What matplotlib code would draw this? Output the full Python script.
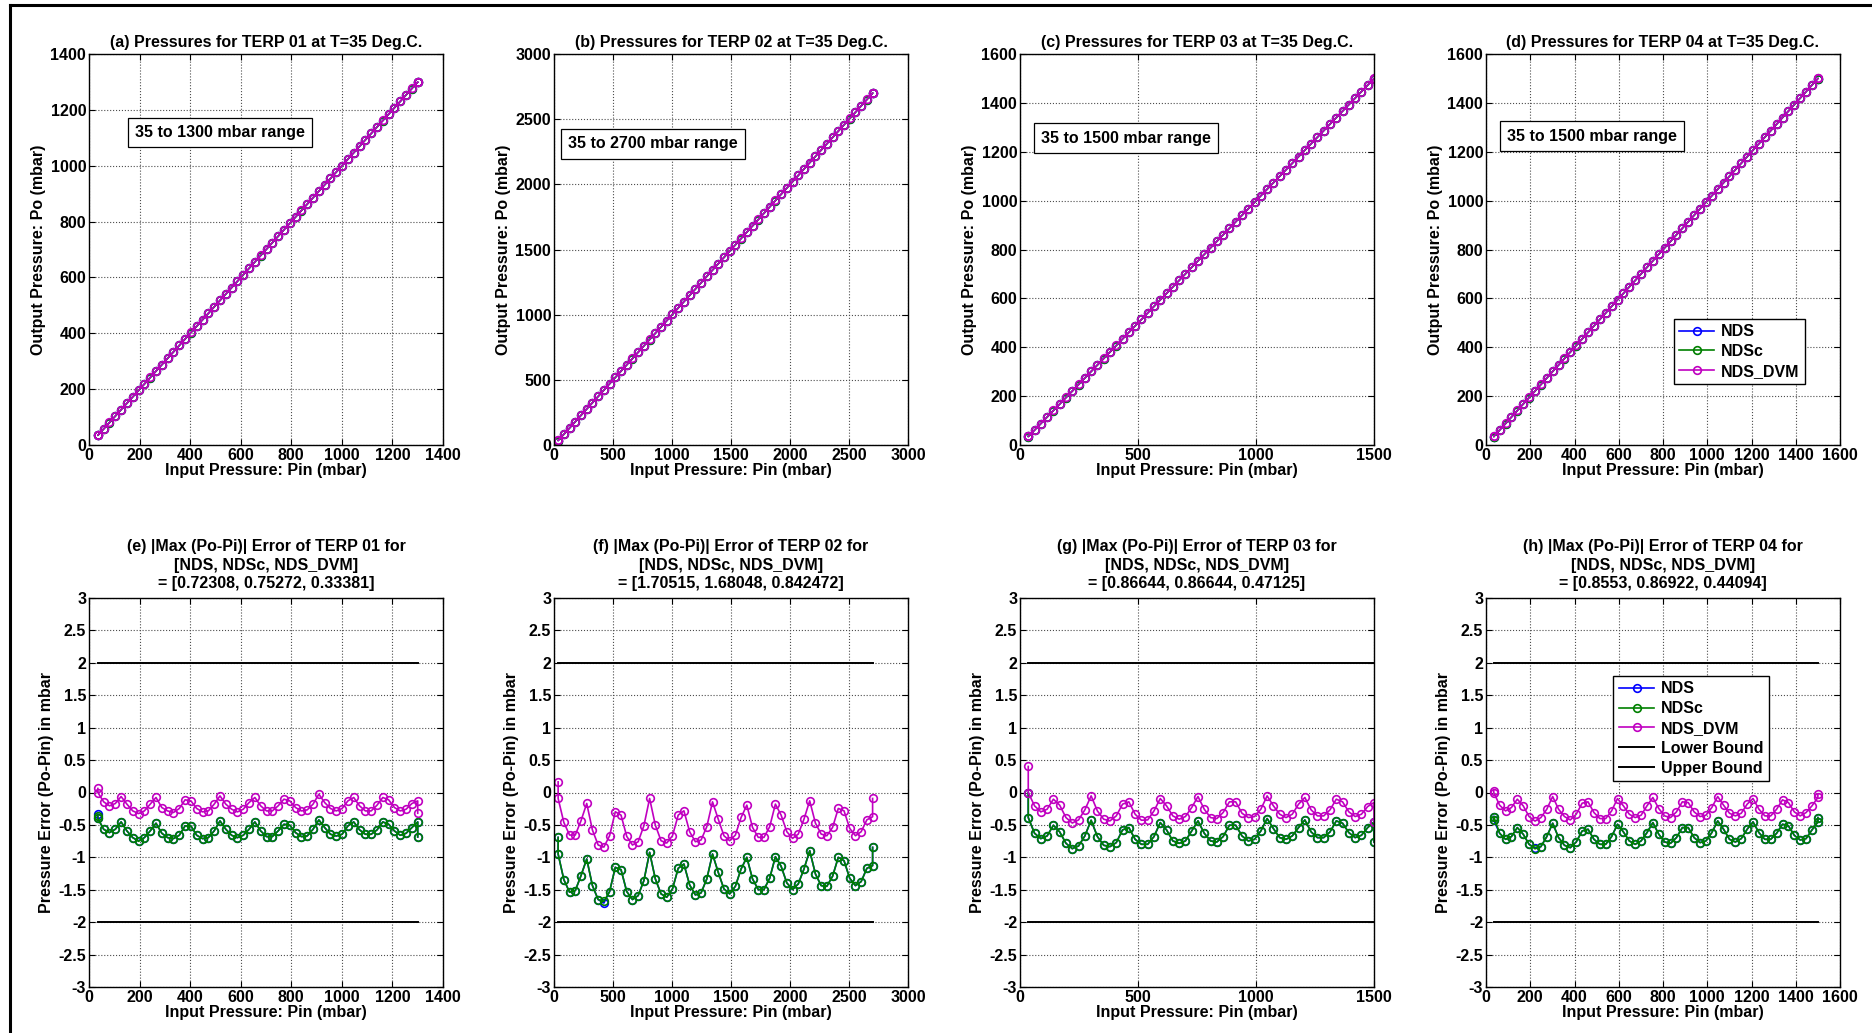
import numpy as np
import matplotlib
matplotlib.use("Agg")
import matplotlib.pyplot as plt
from matplotlib.lines import Line2D

plt.rcParams["font.family"] = ["Liberation Sans", "DejaVu Sans"]
plt.rcParams["font.weight"] = "bold"
FS = 11.5
plt.rcParams["font.size"] = FS


# input pressure ranges of the four TERPs (56 set-points, first and last repeated)
ranges = [(35, 1300), (35, 2700), (35, 1500), (35, 1500)]
n_steps = 56

# errors Po - Pin (mbar)
nds_e = [-0.335, -0.40,
         -0.567, -0.619, -0.567, -0.454, -0.593, -0.696, -0.745, -0.696, -0.593, -0.474,
         -0.629, -0.696, -0.711, -0.660, -0.515, -0.515, -0.660, -0.711, -0.696, -0.593,
         -0.438, -0.567, -0.660, -0.696, -0.660, -0.567, -0.454, -0.593, -0.680, -0.680,
         -0.593, -0.490, -0.505, -0.619, -0.680, -0.670, -0.567, -0.423, -0.541, -0.644,
         -0.670, -0.644, -0.515, -0.454, -0.577, -0.644, -0.644, -0.577, -0.454, -0.490,
         -0.593, -0.660, -0.629, -0.541,
         -0.454, -0.686]
ndsc_e = [-0.37, -0.40,
          -0.567, -0.619, -0.567, -0.454, -0.593, -0.696, -0.753, -0.696, -0.593, -0.474,
          -0.629, -0.696, -0.711, -0.660, -0.515, -0.515, -0.660, -0.711, -0.696, -0.593,
          -0.438, -0.567, -0.660, -0.696, -0.660, -0.567, -0.454, -0.593, -0.680, -0.680,
          -0.593, -0.490, -0.505, -0.619, -0.680, -0.670, -0.567, -0.423, -0.541, -0.644,
          -0.670, -0.644, -0.515, -0.454, -0.577, -0.644, -0.644, -0.577, -0.454, -0.490,
          -0.593, -0.660, -0.629, -0.541,
          -0.454, -0.686]
dvm_e = [0.062, 0.0,
         -0.144, -0.206, -0.170, -0.062, -0.180, -0.284, -0.325, -0.284, -0.180, -0.077,
         -0.232, -0.284, -0.309, -0.247, -0.113, -0.129, -0.247, -0.299, -0.284, -0.180,
         -0.052, -0.180, -0.258, -0.299, -0.258, -0.155, -0.077, -0.206, -0.284, -0.284,
         -0.206, -0.103, -0.129, -0.232, -0.284, -0.268, -0.180, -0.026, -0.155, -0.247,
         -0.284, -0.247, -0.129, -0.077, -0.206, -0.284, -0.284, -0.196, -0.077, -0.113,
         -0.232, -0.284, -0.258, -0.170,
         -0.129, -0.320]

nds_f = [-0.692, -0.949,
         -1.344, -1.538, -1.513, -1.282, -1.026, -1.436, -1.651, -1.705, -1.528, -1.154,
         -1.190, -1.528, -1.651, -1.590, -1.359, -0.923, -1.333, -1.564, -1.615, -1.487,
         -1.169, -1.103, -1.426, -1.579, -1.549, -1.333, -0.949, -1.231, -1.487, -1.564,
         -1.446, -1.179, -1.000, -1.333, -1.497, -1.497, -1.323, -0.990, -1.138, -1.395,
         -1.497, -1.410, -1.179, -0.897, -1.256, -1.436, -1.446, -1.292, -1.000, -1.051,
         -1.323, -1.436, -1.374, -1.169,
         -1.128, -0.846]
ndsc_f = [-0.692, -0.949,
          -1.344, -1.538, -1.513, -1.282, -1.026, -1.436, -1.651, -1.680, -1.528, -1.154,
          -1.190, -1.528, -1.651, -1.590, -1.359, -0.923, -1.333, -1.564, -1.615, -1.487,
          -1.169, -1.103, -1.426, -1.579, -1.549, -1.333, -0.949, -1.231, -1.487, -1.564,
          -1.446, -1.179, -1.000, -1.333, -1.497, -1.497, -1.323, -0.990, -1.138, -1.395,
          -1.497, -1.410, -1.179, -0.897, -1.256, -1.436, -1.446, -1.292, -1.000, -1.051,
          -1.323, -1.436, -1.374, -1.169,
          -1.128, -0.846]
dvm_f = [0.164, -0.092,
         -0.462, -0.656, -0.656, -0.436, -0.169, -0.579, -0.810, -0.842, -0.667, -0.297,
         -0.349, -0.677, -0.810, -0.759, -0.513, -0.092, -0.503, -0.744, -0.779, -0.667,
         -0.349, -0.282, -0.605, -0.759, -0.733, -0.528, -0.144, -0.410, -0.667, -0.744,
         -0.656, -0.385, -0.195, -0.538, -0.692, -0.692, -0.528, -0.179, -0.349, -0.605,
         -0.708, -0.641, -0.410, -0.128, -0.472, -0.641, -0.667, -0.538, -0.246, -0.282,
         -0.554, -0.667, -0.605, -0.421,
         -0.374, -0.092]

nds_g = [0.0, -0.387,
         -0.629, -0.711, -0.670, -0.505, -0.608, -0.784, -0.866, -0.825, -0.670, -0.428,
         -0.680, -0.814, -0.835, -0.773, -0.577, -0.541, -0.722, -0.799, -0.799, -0.680,
         -0.464, -0.577, -0.747, -0.784, -0.747, -0.593, -0.438, -0.629, -0.747, -0.763,
         -0.680, -0.505, -0.505, -0.670, -0.747, -0.722, -0.593, -0.402, -0.557, -0.696,
         -0.722, -0.670, -0.541, -0.423, -0.608, -0.696, -0.696, -0.608, -0.438, -0.474,
         -0.619, -0.696, -0.660, -0.541,
         -0.454, -0.763]
ndsc_g = [0.0, -0.387,
          -0.629, -0.711, -0.670, -0.505, -0.608, -0.784, -0.866, -0.825, -0.670, -0.428,
          -0.680, -0.814, -0.835, -0.773, -0.577, -0.541, -0.722, -0.799, -0.799, -0.680,
          -0.464, -0.577, -0.747, -0.784, -0.747, -0.593, -0.438, -0.629, -0.747, -0.763,
          -0.680, -0.505, -0.505, -0.670, -0.747, -0.722, -0.593, -0.402, -0.557, -0.696,
          -0.722, -0.670, -0.541, -0.423, -0.608, -0.696, -0.696, -0.608, -0.438, -0.474,
          -0.619, -0.696, -0.660, -0.541,
          -0.454, -0.763]
dvm_g = [0.402, 0.0,
         -0.206, -0.299, -0.258, -0.103, -0.196, -0.387, -0.471, -0.423, -0.268, -0.052,
         -0.284, -0.412, -0.438, -0.361, -0.180, -0.144, -0.335, -0.428, -0.423, -0.284,
         -0.093, -0.206, -0.361, -0.412, -0.371, -0.232, -0.062, -0.258, -0.387, -0.402,
         -0.309, -0.144, -0.144, -0.320, -0.387, -0.371, -0.258, -0.052, -0.206, -0.335,
         -0.387, -0.335, -0.180, -0.077, -0.268, -0.361, -0.361, -0.268, -0.103, -0.144,
         -0.299, -0.371, -0.335, -0.216,
         -0.155, -0.454]

nds_h = [-0.371, -0.423,
         -0.629, -0.722, -0.680, -0.541, -0.644, -0.799, -0.855, -0.835, -0.680, -0.474,
         -0.696, -0.814, -0.851, -0.763, -0.593, -0.567, -0.722, -0.799, -0.799, -0.680,
         -0.490, -0.608, -0.747, -0.799, -0.747, -0.619, -0.464, -0.644, -0.763, -0.784,
         -0.696, -0.541, -0.541, -0.696, -0.773, -0.747, -0.619, -0.438, -0.567, -0.722,
         -0.763, -0.711, -0.567, -0.454, -0.619, -0.722, -0.722, -0.629, -0.490, -0.515,
         -0.660, -0.732, -0.711, -0.577,
         -0.454, -0.387]
ndsc_h = [-0.423, -0.371,
          -0.629, -0.722, -0.680, -0.541, -0.644, -0.799, -0.869, -0.835, -0.680, -0.474,
          -0.696, -0.814, -0.851, -0.763, -0.593, -0.567, -0.722, -0.799, -0.799, -0.680,
          -0.490, -0.608, -0.747, -0.799, -0.747, -0.619, -0.464, -0.644, -0.763, -0.784,
          -0.696, -0.541, -0.541, -0.696, -0.773, -0.747, -0.619, -0.438, -0.567, -0.722,
          -0.763, -0.711, -0.567, -0.454, -0.619, -0.722, -0.722, -0.629, -0.490, -0.515,
          -0.660, -0.732, -0.711, -0.577,
          -0.454, -0.387]
dvm_h = [0.026, 0.0,
         -0.196, -0.284, -0.232, -0.103, -0.206, -0.371, -0.441, -0.387, -0.258, -0.062,
         -0.258, -0.371, -0.423, -0.335, -0.165, -0.144, -0.309, -0.402, -0.402, -0.284,
         -0.093, -0.206, -0.335, -0.387, -0.351, -0.206, -0.077, -0.247, -0.361, -0.387,
         -0.299, -0.144, -0.155, -0.299, -0.371, -0.351, -0.232, -0.062, -0.196, -0.320,
         -0.361, -0.320, -0.180, -0.093, -0.258, -0.361, -0.361, -0.258, -0.113, -0.155,
         -0.299, -0.361, -0.309, -0.206,
         -0.077, -0.026]

nds_err = [nds_e, nds_f, nds_g, nds_h]
ndsc_err = [ndsc_e, ndsc_f, ndsc_g, ndsc_h]
dvm_err = [dvm_e, dvm_f, dvm_g, dvm_h]

terp_names = ["01", "02", "03", "04"]
top_letters = ["a", "b", "c", "d"]
bot_letters = ["e", "f", "g", "h"]
max_err_text = ["[0.72308, 0.75272, 0.33381]",
                "[1.70515, 1.68048, 0.842472]",
                "[0.86644, 0.86644, 0.47125]",
                "[0.8553, 0.86922, 0.44094]"]
range_text = ["35 to 1300 mbar range", "35 to 2700 mbar range",
              "35 to 1500 mbar range", "35 to 1500 mbar range"]

x_lims = [1400, 3000, 1500, 1600]
x_steps = [200, 500, 500, 200]
y_lims_top = [1400, 3000, 1600, 1600]
y_steps_top = [200, 500, 200, 200]
bound = 2

c_nds = "#0000ff"
c_ndsc = "#008000"
c_dvm = "#c000c0"


W, H = 1872, 1033
fig = plt.figure(figsize=(W / 100, H / 100), dpi=100)

lefts = [89, 554, 1020, 1486]
ax_w = 354


def px_axes(left, top, bottom):
    return fig.add_axes([left / W, 1 - bottom / H, ax_w / W, (bottom - top) / H])


def style(ax):
    ax.grid(True, linestyle=":", color="0.3", linewidth=0.8)
    ax.tick_params(direction="in", top=True, right=True, length=4,
                   labelsize=FS, pad=2)
    for s in ax.spines.values():
        s.set_linewidth(1.0)
    for lab in ax.get_xticklabels() + ax.get_yticklabels():
        lab.set_fontweight("bold")


line_kw = dict(marker="o", markersize=5.5, markerfacecolor="none",
               markeredgewidth=1.2, linewidth=1.2)
leg_kw = dict(fancybox=False, edgecolor="black", framealpha=1,
              handlelength=2.2, borderpad=0.35, labelspacing=0.3,
              handletextpad=0.4, borderaxespad=0,
              prop={"weight": "bold", "size": FS})

for i in range(4):
    lo, hi = ranges[i]
    steps = np.linspace(lo, hi, n_steps)
    pin = np.concatenate([[lo], steps, [hi]])

    nds = np.array(nds_err[i])
    ndsc = np.array(ndsc_err[i])
    dvm = np.array(dvm_err[i])

    # top row: output vs input pressure
    ax = px_axes(lefts[i], 54, 445)
    ax.plot(pin, pin + nds, color=c_nds, label="NDS", **line_kw)
    ax.plot(pin, pin + ndsc, color=c_ndsc, label="NDSc", **line_kw)
    ax.plot(pin, pin + dvm, color=c_dvm, label="NDS_DVM", **line_kw)
    ax.set_xlim(0, x_lims[i])
    ax.set_ylim(0, y_lims_top[i])
    ax.set_xticks(np.arange(0, x_lims[i] + 1, x_steps[i]))
    ax.set_yticks(np.arange(0, y_lims_top[i] + 1, y_steps_top[i]))
    ax.set_title("(%s) Pressures for TERP %s at T=35 Deg.C." % (top_letters[i], terp_names[i]),
                 fontsize=FS, fontweight="bold", pad=5)
    ax.set_xlabel("Input Pressure: Pin (mbar)", fontsize=FS, fontweight="bold", labelpad=0)
    ax.set_ylabel("Output Pressure: Po (mbar)", fontsize=FS, fontweight="bold", labelpad=3)
    box_x = [0.13, 0.04, 0.06, 0.06][i]
    box_y = [0.80, 0.77, 0.785, 0.79][i]
    ax.text(box_x, box_y, range_text[i], transform=ax.transAxes, fontsize=FS,
            fontweight="bold", va="center", ha="left",
            bbox=dict(boxstyle="square,pad=0.45", facecolor="white",
                      edgecolor="black", linewidth=0.9))
    style(ax)
    if i == 3:
        ax.legend(loc="lower left", bbox_to_anchor=(0.53, 0.155), **leg_kw)

    # bottom row: error Po - Pin
    ax = px_axes(lefts[i], 598, 987)
    ax.plot(pin, nds, color=c_nds, label="NDS", **line_kw)
    ax.plot(pin, ndsc, color=c_ndsc, label="NDSc", **line_kw)
    ax.plot(pin, dvm, color=c_dvm, label="NDS_DVM", **line_kw)
    ax.plot([lo, hi], [-bound, -bound], color="black", linewidth=1.4, label="Lower Bound")
    ax.plot([lo, hi], [bound, bound], color="black", linewidth=1.4, label="Upper Bound")
    ax.set_xlim(0, x_lims[i])
    ax.set_ylim(-3, 3)
    ax.set_xticks(np.arange(0, x_lims[i] + 1, x_steps[i]))
    ax.set_yticks(np.arange(-3, 3.01, 0.5))
    ax.set_yticklabels(["%g" % v for v in np.arange(-3, 3.01, 0.5)])
    ax.set_title("(%s) |Max (Po-Pi)| Error of TERP %s for\n[NDS, NDSc, NDS_DVM]\n= %s"
                 % (bot_letters[i], terp_names[i], max_err_text[i]),
                 fontsize=FS, fontweight="bold", pad=7, linespacing=1.3)
    ax.set_xlabel("Input Pressure: Pin (mbar)", fontsize=FS, fontweight="bold", labelpad=0)
    ax.set_ylabel("Pressure Error (Po-Pin) in mbar", fontsize=FS, fontweight="bold", labelpad=3)
    style(ax)
    if i == 3:
        ax.legend(loc="upper left", bbox_to_anchor=(0.36, 0.80), **leg_kw)

# frame of the figure window (left and top edges)
fig.add_artist(Line2D([10 / W, 10 / W], [0, 1 - 5 / H], color="black", linewidth=2.2))
fig.add_artist(Line2D([10 / W, 1], [1 - 5 / H, 1 - 5 / H], color="black", linewidth=2.2))

fig.savefig("out.png", dpi=100)
plt.close(fig)
